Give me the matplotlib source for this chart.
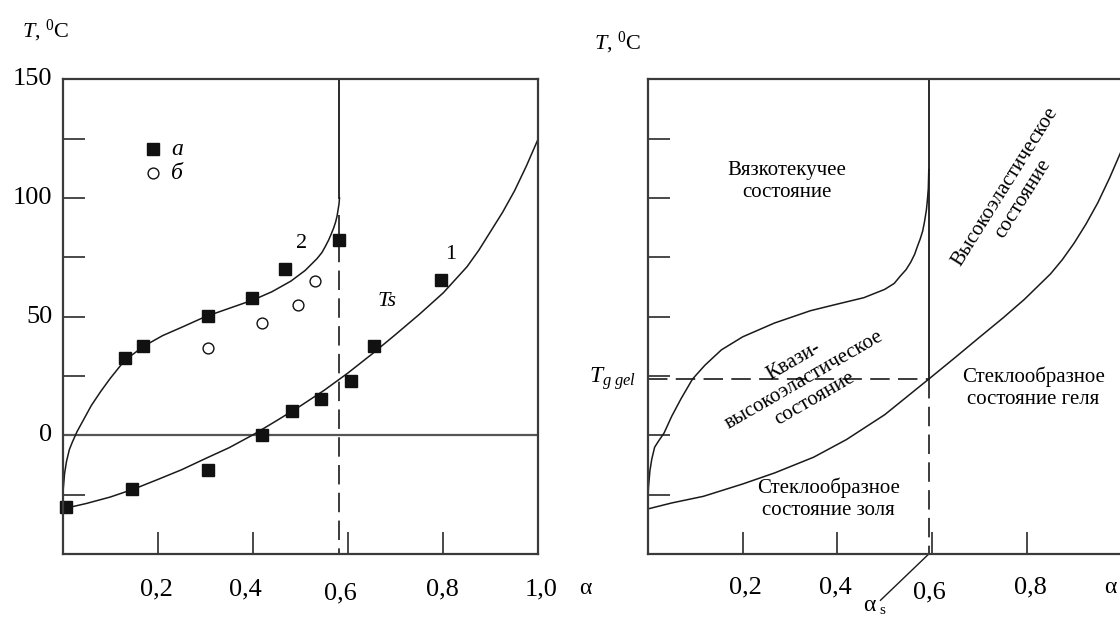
import matplotlib
matplotlib.use('Agg')
import matplotlib.pyplot as plt

plt.rcParams['font.family'] = ['Liberation Serif', 'DejaVu Serif']
plt.rcParams['mathtext.fontset'] = 'custom'
plt.rcParams['mathtext.rm'] = 'Liberation Serif'
plt.rcParams['mathtext.it'] = 'Liberation Serif:italic'
plt.rcParams['lines.scale_dashes'] = False

# ---------------- data (left panel) ----------------
x_tick_vals = [0.2, 0.4, 0.6, 0.8]
x_tick_labels = ['0,2', '0,4', '0,6', '0,8', '1,0']
y_label_vals = [0, 50, 100, 150]
y_minor_vals = [-25, 25, 75, 125]

# curve 1 (Ts)
ts_alpha = [0.0, 0.05, 0.10, 0.15, 0.20, 0.25, 0.30, 0.35, 0.40, 0.45, 0.50,
            0.55, 0.60, 0.65, 0.70, 0.75, 0.80, 0.85, 0.875, 0.90, 0.925,
            0.95, 0.975, 1.00]
ts_T = [-31, -28.7, -26, -22.6, -18.6, -14.5, -9.8, -5.2, 0.2, 6.2, 12.4,
        19, 26.3, 34.2, 42.5, 51, 60, 71, 78, 86, 94, 103, 113.5, 125]

# curve 2
c2_alpha = [0.0, 0.001, 0.004, 0.008, 0.014, 0.02, 0.03, 0.045, 0.06, 0.08,
            0.10, 0.13, 0.17, 0.21, 0.25, 0.30, 0.35, 0.40, 0.44, 0.48, 0.51,
            0.535, 0.545, 0.552, 0.559, 0.565, 0.570, 0.574, 0.577, 0.579,
            0.581, 0.582]
c2_T = [-28, -23, -16, -11, -6, -3, 1.5, 7, 12.5, 18.5, 24, 31.5, 37.5, 42,
        45.5, 50, 53.5, 57, 60.5, 65, 69.5, 74.5, 77, 79.5, 82.2, 85, 87.5,
        90, 92.5, 95, 97.5, 100]
alpha_gel_left = 0.582

# points "a" (filled squares)
a1_alpha = [0.006, 0.145, 0.306, 0.419, 0.482, 0.543, 0.606, 0.655, 0.795]
a1_T = [-30, -22.6, -14.7, 0.3, 10.1, 15.3, 22.7, 37.7, 65.3]
a2_alpha = [0.13, 0.169, 0.306, 0.397, 0.467, 0.58]
a2_T = [32.6, 37.7, 50.3, 57.8, 70, 82.4]
# points "б" (open circles)
b_alpha = [0.306, 0.42, 0.494, 0.53]
b_T = [36.9, 47.3, 55, 65.1]

# ---------------- data (right panel) ----------------
r1_alpha = [0.0, 0.05, 0.117, 0.2, 0.268, 0.35, 0.419, 0.5, 0.593, 0.65,
            0.7, 0.75, 0.795, 0.85, 0.875, 0.9, 0.925, 0.95, 0.975, 1.0]
r1_T = [-31, -28.5, -25.7, -20.5, -15.8, -9.2, -1.8, 8.7, 23.7, 33, 41.3,
        49.5, 57.3, 68, 74, 81, 89, 98, 108.5, 120]
r2_alpha = [0.0, 0.001, 0.004, 0.008, 0.014, 0.022, 0.034, 0.05, 0.07, 0.094,
            0.12, 0.155, 0.20, 0.267, 0.343, 0.40, 0.456, 0.50, 0.52, 0.532,
            0.545, 0.555, 0.563, 0.569, 0.575, 0.580, 0.584, 0.588, 0.590,
            0.592, 0.593]
r2_T = [-27, -22, -15, -10, -5, -2.5, 1, 8, 15.5, 23.7, 29.5, 36, 41.5, 47.3,
        52.5, 55.3, 58, 61.5, 64, 66.9, 69.8, 73, 76.2, 79.6, 82.8, 86, 90,
        95, 99, 104, 112]
alpha_s = 0.593
T_g_gel = 23.7

W, H = 1120, 617
fig = plt.figure(figsize=(W / 100, H / 100), dpi=100)


def box(l, r, t, b):
    return [l / W, 1 - b / H, (r - l) / W, (b - t) / H]


ax1 = fig.add_axes(box(62.7, 538.3, 79.3, 554))
ax2 = fig.add_axes(box(648, 1121.5, 79.3, 554))

SPINE = '#3a3a3a'
LINE = '#1a1a1a'
DASH = (0, (14, 6))

for ax in (ax1, ax2):
    ax.set_xlim(0, 1)
    ax.set_ylim(-50, 150)
    for s in ax.spines.values():
        s.set_color(SPINE)
        s.set_linewidth(1.6)
    ax.set_xticks(x_tick_vals)
    ax.set_yticks(y_minor_vals + y_label_vals[:-1])
    ax.tick_params(direction='in', length=16, width=1.3, color=SPINE,
                   labelbottom=False, labelleft=False)

# ---------- left panel ----------
ax1.axhline(0, color='#555555', lw=1.6)
ax1.plot(ts_alpha, ts_T, color=LINE, lw=1.1)
ax1.plot(c2_alpha, c2_T, color=LINE, lw=1.1)
ax1.plot([alpha_gel_left, alpha_gel_left], [c2_T[-1], 150], color=LINE, lw=1.3)
ax1.plot([alpha_gel_left, alpha_gel_left], [93, -50], color=LINE, lw=1.2,
         linestyle=DASH)
ax1.plot(a1_alpha, a1_T, 's', color='#111111', ms=8.6, clip_on=False)
ax1.plot(a2_alpha, a2_T, 's', color='#111111', ms=8.6, clip_on=False)
ax1.plot(b_alpha, b_T, 'o', mfc='white', mec='#111111', mew=1.0, ms=7.8)

# legend
ax1.plot([0.19], [120.5], 's', color='#111111', ms=8.6)
ax1.plot([0.19], [110.5], 'o', mfc='white', mec='#111111', mew=1.0, ms=7.8)
ax1.text(0.228, 120.5, 'а', fontsize=17, style='italic', va='center', ha='left')
ax1.text(0.228, 110.5, 'б', fontsize=17, style='italic', va='center', ha='left')

ax1.text(0.502, 81, '2', fontsize=16, ha='center', va='center')
ax1.text(0.816, 76, '1', fontsize=16, ha='center', va='center')
ax1.text(0.681, 56.4, 'Ts', fontsize=16, style='italic', ha='center',
         va='center')

ytr = ax1.get_yaxis_transform()
for v in y_label_vals:
    ax1.text(-0.022, v, str(v), transform=ytr, ha='right', va='center',
             fontsize=19)

xtr1 = ax1.get_xaxis_transform()
left_lab_x = [0.198, 0.385, 0.584, 0.798, 1.005]
left_lab_base = [-0.0864, -0.0864, -0.0954, -0.0864, -0.0864]
for xv, yb, lab in zip(left_lab_x, left_lab_base, x_tick_labels):
    ax1.text(xv, yb, lab, transform=xtr1, ha='center', va='baseline',
             fontsize=19)

# ---------- right panel ----------
ax2.plot(r1_alpha, r1_T, color=LINE, lw=1.1)
ax2.plot(r2_alpha, r2_T, color=LINE, lw=1.1)
ax2.plot([alpha_s, alpha_s], [T_g_gel, 150], color=LINE, lw=1.3)
ax2.plot([alpha_s, alpha_s], [T_g_gel, -50], color=LINE, lw=1.2,
         linestyle=DASH)
ax2.plot([0, alpha_s], [T_g_gel, T_g_gel], color=LINE, lw=1.2, linestyle=DASH)

ax2.text(0.2925, 106.8, 'Вязкотекучее\nсостояние', fontsize=15,
         ha='center', va='center', multialignment='center')
ax2.text(0.773, 102.1, 'Высокоэластическое\nсостояние', fontsize=15,
         ha='center', va='center', multialignment='center', rotation=58)
ax2.text(0.33, 23.4, 'Квази-\nвысокоэластическое\nсостояние', fontsize=15,
         ha='center', va='center', multialignment='center', rotation=30)
ax2.text(0.814, 20, 'Стеклообразное\nсостояние геля', fontsize=15,
         ha='center', va='center', multialignment='center')
ax2.text(0.381, -26.7, 'Стеклообразное\nсостояние золя', fontsize=15,
         ha='center', va='center', multialignment='center')

ytr2 = ax2.get_yaxis_transform()
ax2.text(-0.025, T_g_gel, r'$T_{g\ gel}$', transform=ytr2, ha='right',
         va='center', fontsize=17)

xtr2 = ax2.get_xaxis_transform()
right_lab_x = [0.206, 0.395, 0.594, 0.808]
right_lab_base = [-0.084, -0.084, -0.0927, -0.084]
for xv, yb, lab in zip(right_lab_x, right_lab_base, x_tick_labels[:4]):
    ax2.text(xv, yb, lab, transform=xtr2, ha='center', va='baseline',
             fontsize=19)

# alpha_s pointer
ax2.plot([alpha_s, 0.491], [-50, -69.5], color=LINE, lw=1.0, clip_on=False)
fig.text(869 / W, 1 - 611 / H, 'α', fontsize=17, ha='center', va='baseline')
fig.text(882 / W, 1 - 614.5 / H, 's', fontsize=11, ha='center', va='baseline')

# axis labels
fig.text(585 / W, 1 - 594 / H, 'α', fontsize=17, ha='center', va='baseline')
fig.text(1110 / W, 1 - 593 / H, 'α', fontsize=17, ha='center', va='baseline')
fig.text(22 / W, 1 - 37.3 / H, r'$T$, ${}^{0}$C', fontsize=16, ha='left',
         va='baseline')
fig.text(594 / W, 1 - 49 / H, r'$T$, ${}^{0}$C', fontsize=16, ha='left',
         va='baseline')

fig.savefig('out.png', dpi=100)
